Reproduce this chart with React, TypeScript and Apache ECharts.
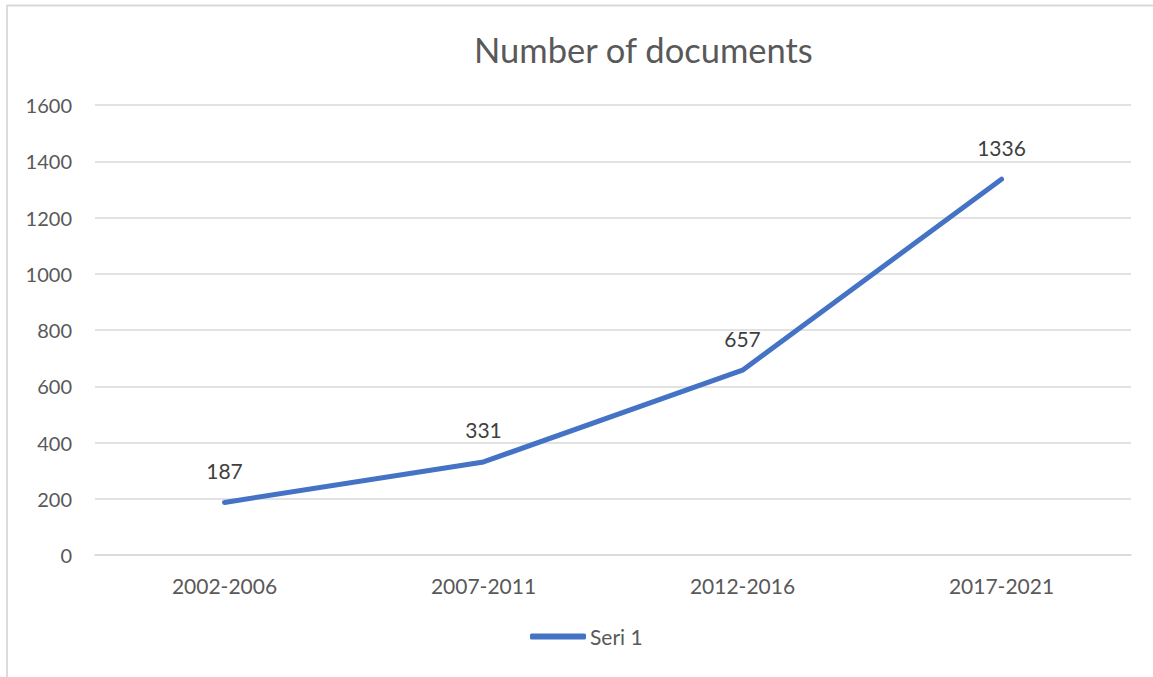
import React, { useEffect, useRef } from "react";
import * as echarts from "echarts";

const categories = ["2002-2006", "2007-2011", "2012-2016", "2017-2021"];
const values = [187, 331, 657, 1336];
const seriesName = "Seri 1";
const titleText = "Number of documents";

export default function App() {
  const ref = useRef<HTMLDivElement>(null);
  useEffect(() => {
    if (!ref.current) return;
    const chart = echarts.init(ref.current, null, { renderer: "svg" });
    const font = "Lato, 'Open Sans', sans-serif";
    chart.setOption({
      animation: false,
      backgroundColor: "#ffffff",
      title: {
        text: titleText,
        left: 469,
        top: 27,
        textStyle: { color: "#595959", fontSize: 34.5, fontWeight: "normal", fontFamily: font },
      },
      graphic: [
        {
          type: "rect",
          shape: { x: 7, y: 5.5, width: 1300, height: 800 },
          style: { fill: "none", stroke: "#d9d9d9", lineWidth: 1.8 },
          silent: true,
        },
      ],
      legend: {
        bottom: 25,
        left: 525,
        itemWidth: 56,
        itemHeight: 6,
        itemGap: 4,
        textStyle: { color: "#595959", fontSize: 21, fontFamily: font, padding: [0, 0, 0, -1] },
        data: [{ name: seriesName, icon: "roundRect" }],
      },
      grid: { left: 95, right: 22, top: 105, bottom: 122 },
      xAxis: {
        type: "category",
        data: categories,
        boundaryGap: true,
        axisLine: { lineStyle: { color: "#d9d9d9", width: 1.5 } },
        axisTick: { show: false },
        axisLabel: { color: "#595959", fontSize: 21, fontFamily: font, margin: 20 },
      },
      yAxis: {
        type: "value",
        min: 0,
        max: 1600,
        interval: 200,
        axisLine: { show: false },
        axisTick: { show: false },
        splitLine: { lineStyle: { color: "#d9d9d9", width: 1.5 } },
        axisLabel: {
          color: "#595959",
          fontSize: 20,
          fontFamily: font,
          margin: 23,
          formatter: (v: number) => String(v),
        },
      },
      series: [
        {
          name: seriesName,
          type: "line",
          data: values,
          symbol: "circle",
          symbolSize: 1,
          showSymbol: true,
          lineStyle: { color: "#4472C4", width: 5, cap: "round", join: "round" },
          itemStyle: { color: "#4472C4" },
          label: {
            show: true,
            position: "top",
            distance: 21,
            color: "#404040",
            fontSize: 21,
            fontFamily: font,
          },
        },
      ],
    });
    return () => chart.dispose();
  }, []);
  return (
    <div
      ref={ref}
      style={{ position: "absolute", left: 0, top: 0, width: 1153, height: 677 }}
    />
  );
}
